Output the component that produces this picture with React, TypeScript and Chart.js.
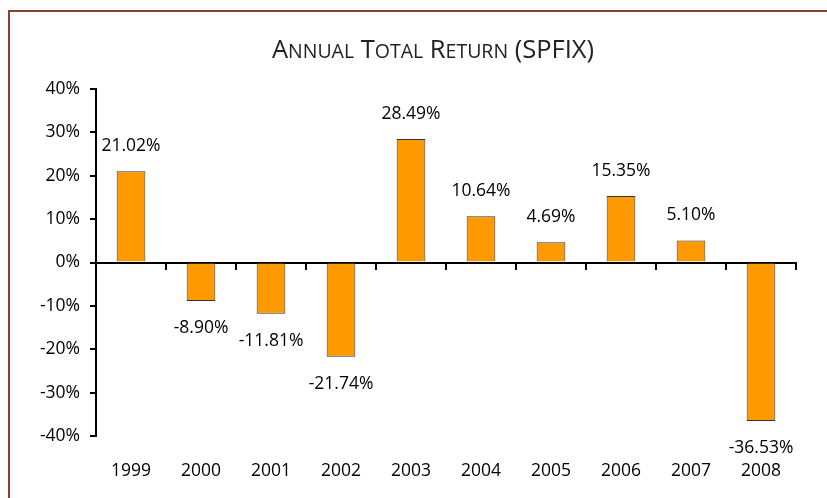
import { useEffect, useRef } from 'react';
import { Chart, registerables } from 'chart.js';

Chart.register(...registerables);

const categories = ['1999', '2000', '2001', '2002', '2003', '2004', '2005', '2006', '2007', '2008'];
const returns = [21.02, -8.9, -11.81, -21.74, 28.49, 10.64, 4.69, 15.35, 5.1, -36.53];
const yMin = -40;
const yMax = 40;
const yStep = 10;
const titleText = 'Annual Total Return (SPFIX)';

const FONT = '"Open Sans", "DejaVu Sans", sans-serif';

const valueLabels = {
  id: 'valueLabels',
  afterDatasetsDraw(chart: any) {
    const ctx = chart.ctx;
    const meta = chart.getDatasetMeta(0);
    ctx.save();
    ctx.font = `17.5px ${FONT}`;
    ctx.fillStyle = '#000';
    ctx.textAlign = 'center';
    ctx.textBaseline = 'middle';
    meta.data.forEach((bar: any, i: number) => {
      const v = returns[i];
      const y = v >= 0 ? bar.y - 25 : bar.y + 27;
      ctx.fillText(v.toFixed(2) + '%', bar.x, y);
    });
    ctx.restore();
  },
};

const smallCapsTitle = {
  id: 'smallCapsTitle',
  afterDraw(chart: any) {
    const ctx = chart.ctx;
    const big = `25.5px ${FONT}`;
    const small = `19.5px ${FONT}`;
    const segs: { t: string; f: string }[] = [];
    for (const ch of titleText) {
      const isLower = ch !== ch.toUpperCase();
      segs.push({ t: isLower ? ch.toUpperCase() : ch, f: isLower ? small : big });
    }
    ctx.save();
    let total = 0;
    const widths = segs.map((s) => {
      ctx.font = s.f;
      const w = ctx.measureText(s.t).width;
      total += w;
      return w;
    });
    let x = chart.width / 2 - total / 2;
    const y = 46;
    ctx.fillStyle = '#222';
    ctx.textBaseline = 'alphabetic';
    ctx.textAlign = 'left';
    segs.forEach((s, i) => {
      ctx.font = s.f;
      ctx.fillText(s.t, x, y);
      x += widths[i];
    });
    ctx.restore();
  },
};

export default function App() {
  const ref = useRef<HTMLCanvasElement | null>(null);

  useEffect(() => {
    if (!ref.current) return;
    const chart = new Chart(ref.current, {
      type: 'bar',
      data: {
        labels: categories,
        datasets: [
          {
            data: returns,
            backgroundColor: '#FF9900',
            borderColor: '#333',
            borderWidth: 1,
            categoryPercentage: 1,
            barPercentage: 0.41,
            xAxisID: 'x',
            yAxisID: 'y',
          },
        ],
      },
      options: {
        animation: false,
        responsive: false,
        layout: { padding: { top: 77, right: 60, bottom: 18, left: 0 } },
        plugins: {
          legend: { display: false },
          title: { display: false },
          tooltip: { enabled: false },
        },
        scales: {
          x: {
            type: 'category',
            position: { y: 0 } as any,
            offset: true,
            grid: {
              display: true,
              drawOnChartArea: false,
              drawTicks: true,
              tickLength: 6,
              offset: true,
              color: '#000',
              lineWidth: 2,
            },
            border: { display: true, color: '#000', width: 2 },
            ticks: { display: false },
          },
          x2: {
            type: 'category',
            labels: categories,
            position: 'bottom',
            offset: true,
            grid: { display: false, drawTicks: false },
            border: { display: false },
            ticks: { color: '#000', font: { family: FONT, size: 17.5 }, padding: 25, maxRotation: 0 },
          },
          y: {
            min: yMin,
            max: yMax,
            ticks: {
              stepSize: yStep,
              color: '#000',
              font: { family: FONT, size: 17.5 },
              padding: 10,
              callback: (v: any) => v + '%',
            },
            grid: { drawOnChartArea: false, tickLength: 6, color: '#000', lineWidth: 2 },
            border: { color: '#000', width: 2 },
            afterFit: (s: any) => {
              s.width = 86;
            },
          },
        },
      },
      plugins: [valueLabels, smallCapsTitle],
    });
    return () => chart.destroy();
  }, []);

  return (
    <div style={{ position: 'fixed', left: 0, top: 0, width: 827, height: 498, overflow: 'hidden', background: '#fff' }}>
      <div
        style={{
          position: 'absolute',
          left: 8,
          top: 10,
          width: 900,
          height: 600,
          borderTop: '2px solid #8B4030',
          borderLeft: '2px solid #8B4030',
        }}
      >
        <canvas ref={ref} width={846} height={513} style={{ display: 'block' }} />
      </div>
    </div>
  );
}
